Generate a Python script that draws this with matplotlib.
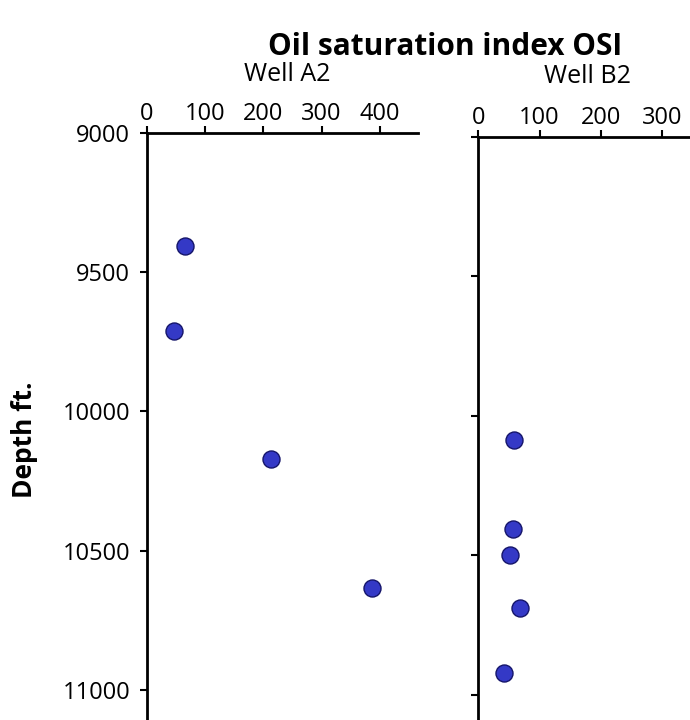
import matplotlib.pyplot as plt

plt.rcParams['font.family'] = ['Open Sans', 'DejaVu Sans']

# Well A2
osi_a2 = [66, 46, 213, 387]
depth_a2 = [9407, 9710, 10170, 10634]

# Well B2
osi_b2 = [58, 57, 52, 68, 42]
depth_b2 = [10085, 10405, 10500, 10690, 10920]

depth_ticks = [9000, 9500, 10000, 10500, 11000]
ticks_a2 = [0, 100, 200, 300, 400]
ticks_b2 = [0, 100, 200, 300]

fig = plt.figure(figsize=(6.9, 7.2), dpi=100)
ax1 = fig.add_axes([0.213, 0.0, 0.393, 0.8153])
ax2 = fig.add_axes([0.693, 0.0, 0.307, 0.8097])

dot = dict(s=150, c='#3439c6', edgecolors='#15156a', linewidths=1.0, zorder=3, clip_on=False)
ax1.scatter(osi_a2, depth_a2, **dot)
ax2.scatter(osi_b2, depth_b2, **dot)

ax1.set_xlim(0, 466)
ax2.set_xlim(0, 345)
ax1.set_ylim(11108, 9000)
ax2.set_ylim(11090, 9000)

for ax, xt in ((ax1, ticks_a2), (ax2, ticks_b2)):
    for side in ('right', 'bottom'):
        ax.spines[side].set_visible(False)
    for side in ('left', 'top'):
        ax.spines[side].set_linewidth(2.0)
    ax.xaxis.tick_top()
    ax.set_xticks(xt)
    ax.set_yticks(depth_ticks)
    ax.tick_params(axis='x', labelsize=17, width=1.5, length=5, pad=0)
    ax.tick_params(axis='y', labelsize=17, width=1.5, length=5, pad=7)

ax2.tick_params(axis='y', labelleft=False)

fig.text(0.035, 0.389, 'Depth ft.', fontsize=19, fontweight='bold', rotation=90, ha='center', va='center')
fig.text(0.645, 0.935, 'Oil saturation index OSI', fontsize=21.5, fontweight='bold', ha='center', va='center')
fig.text(0.416, 0.897, 'Well A2', fontsize=18, ha='center', va='center')
fig.text(0.851, 0.894, 'Well B2', fontsize=18, ha='center', va='center')

fig.savefig('out.png', dpi=100)
